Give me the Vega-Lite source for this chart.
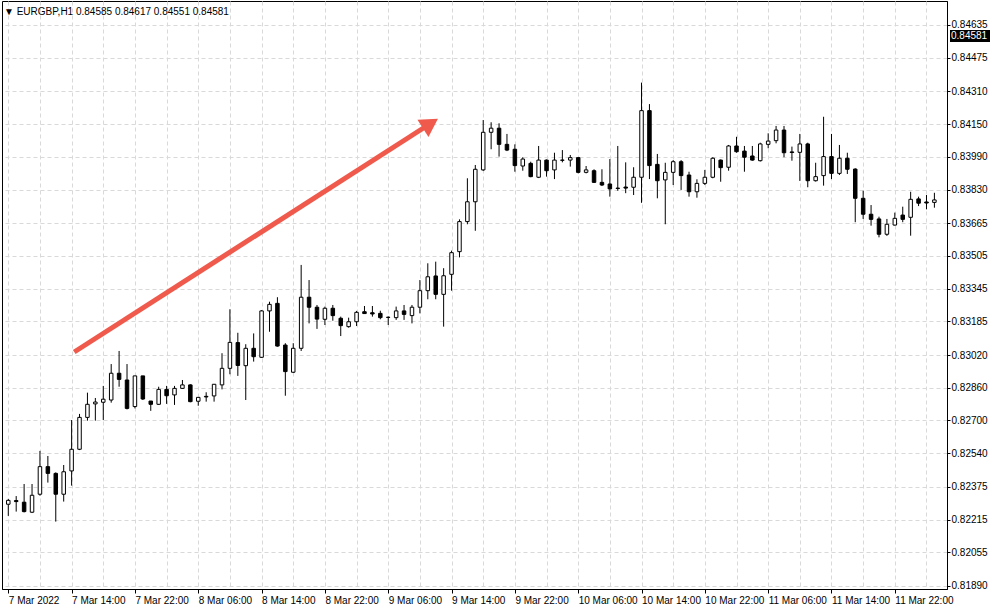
{
  "$schema": "https://vega.github.io/schema/vega-lite/v6.json",
  "width": 945,
  "height": 588,
  "autosize": "none",
  "padding": {"left": 2, "top": 1, "right": 46, "bottom": 21},
  "background": "#ffffff",
  "config": {
    "view": {"stroke": "#000000", "strokeWidth": 1},
    "font": "Liberation Sans",
    "axisY": {"labelOverlap": false, "labelSeparation": 0, "labelBound": false, "labelFlush": false},
    "axisX": {"labelOverlap": false, "labelSeparation": 0, "labelBound": false, "labelFlush": false}
  },
  "title": {
    "text": "▼ EURGBP,H1  0.84585 0.84617 0.84551 0.84581",
    "anchor": "start",
    "frame": "group",
    "orient": "top",
    "offset": -21,
    "baseline": "middle",
    "dx": 2,
    "fontSize": 10,
    "font": "Liberation Sans",
    "fontWeight": "normal",
    "color": "#000000"
  },
  "datasets": {
    "candles": [
      {"t":"2022-03-07T06:00Z","open":0.82290,"high":0.82316,"low":0.82233,"close":0.82309},
      {"t":"2022-03-07T07:00Z","open":0.82308,"high":0.82330,"low":0.82254,"close":0.82303},
      {"t":"2022-03-07T08:00Z","open":0.82300,"high":0.82389,"low":0.82250,"close":0.82254},
      {"t":"2022-03-07T09:00Z","open":0.82251,"high":0.82389,"low":0.82247,"close":0.82334},
      {"t":"2022-03-07T10:00Z","open":0.82339,"high":0.82551,"low":0.82332,"close":0.82474},
      {"t":"2022-03-07T11:00Z","open":0.82474,"high":0.82526,"low":0.82396,"close":0.82441},
      {"t":"2022-03-07T12:00Z","open":0.82441,"high":0.82446,"low":0.82205,"close":0.82339},
      {"t":"2022-03-07T13:00Z","open":0.82339,"high":0.82482,"low":0.82303,"close":0.82449},
      {"t":"2022-03-07T14:00Z","open":0.82453,"high":0.82702,"low":0.82381,"close":0.82559},
      {"t":"2022-03-07T15:00Z","open":0.82559,"high":0.82732,"low":0.82555,"close":0.82715},
      {"t":"2022-03-07T16:00Z","open":0.82715,"high":0.82836,"low":0.82699,"close":0.82779},
      {"t":"2022-03-07T17:00Z","open":0.82781,"high":0.82810,"low":0.82699,"close":0.82790},
      {"t":"2022-03-07T18:00Z","open":0.82789,"high":0.82869,"low":0.82702,"close":0.82804},
      {"t":"2022-03-07T19:00Z","open":0.82800,"high":0.82976,"low":0.82787,"close":0.82931},
      {"t":"2022-03-07T20:00Z","open":0.82931,"high":0.83040,"low":0.82865,"close":0.82901},
      {"t":"2022-03-07T21:00Z","open":0.82898,"high":0.82976,"low":0.82754,"close":0.82759},
      {"t":"2022-03-07T22:00Z","open":0.82768,"high":0.82918,"low":0.82759,"close":0.82918},
      {"t":"2022-03-07T23:00Z","open":0.82918,"high":0.82918,"low":0.82800,"close":0.82805},
      {"t":"2022-03-08T00:00Z","open":0.82795,"high":0.82795,"low":0.82747,"close":0.82779},
      {"t":"2022-03-08T01:00Z","open":0.82779,"high":0.82865,"low":0.82776,"close":0.82852},
      {"t":"2022-03-08T02:00Z","open":0.82852,"high":0.82869,"low":0.82781,"close":0.82821},
      {"t":"2022-03-08T03:00Z","open":0.82825,"high":0.82869,"low":0.82776,"close":0.82857},
      {"t":"2022-03-08T04:00Z","open":0.82857,"high":0.82898,"low":0.82854,"close":0.82874},
      {"t":"2022-03-08T05:00Z","open":0.82874,"high":0.82877,"low":0.82789,"close":0.82792},
      {"t":"2022-03-08T06:00Z","open":0.82794,"high":0.82813,"low":0.82772,"close":0.82813},
      {"t":"2022-03-08T07:00Z","open":0.82818,"high":0.82838,"low":0.82792,"close":0.82815},
      {"t":"2022-03-08T08:00Z","open":0.82820,"high":0.82877,"low":0.82792,"close":0.82877},
      {"t":"2022-03-08T09:00Z","open":0.82874,"high":0.83029,"low":0.82852,"close":0.82955},
      {"t":"2022-03-08T10:00Z","open":0.82955,"high":0.83244,"low":0.82926,"close":0.83082},
      {"t":"2022-03-08T11:00Z","open":0.83081,"high":0.83129,"low":0.82918,"close":0.82969},
      {"t":"2022-03-08T12:00Z","open":0.82968,"high":0.83073,"low":0.82800,"close":0.83053},
      {"t":"2022-03-08T13:00Z","open":0.83053,"high":0.83126,"low":0.82988,"close":0.83012},
      {"t":"2022-03-08T14:00Z","open":0.83009,"high":0.83240,"low":0.83006,"close":0.83236},
      {"t":"2022-03-08T15:00Z","open":0.83236,"high":0.83281,"low":0.83134,"close":0.83268},
      {"t":"2022-03-08T16:00Z","open":0.83273,"high":0.83303,"low":0.83061,"close":0.83064},
      {"t":"2022-03-08T17:00Z","open":0.83069,"high":0.83078,"low":0.82821,"close":0.82939},
      {"t":"2022-03-08T18:00Z","open":0.82936,"high":0.83078,"low":0.82932,"close":0.83053},
      {"t":"2022-03-08T19:00Z","open":0.83053,"high":0.83461,"low":0.83040,"close":0.83303},
      {"t":"2022-03-08T20:00Z","open":0.83303,"high":0.83387,"low":0.83175,"close":0.83254},
      {"t":"2022-03-08T21:00Z","open":0.83254,"high":0.83265,"low":0.83148,"close":0.83196},
      {"t":"2022-03-08T22:00Z","open":0.83195,"high":0.83257,"low":0.83167,"close":0.83249},
      {"t":"2022-03-08T23:00Z","open":0.83249,"high":0.83265,"low":0.83188,"close":0.83213},
      {"t":"2022-03-09T00:00Z","open":0.83200,"high":0.83208,"low":0.83113,"close":0.83164},
      {"t":"2022-03-09T01:00Z","open":0.83159,"high":0.83203,"low":0.83154,"close":0.83183},
      {"t":"2022-03-09T02:00Z","open":0.83183,"high":0.83236,"low":0.83162,"close":0.83229},
      {"t":"2022-03-09T03:00Z","open":0.83232,"high":0.83260,"low":0.83221,"close":0.83223},
      {"t":"2022-03-09T04:00Z","open":0.83227,"high":0.83260,"low":0.83208,"close":0.83221},
      {"t":"2022-03-09T05:00Z","open":0.83224,"high":0.83237,"low":0.83195,"close":0.83203},
      {"t":"2022-03-09T06:00Z","open":0.83205,"high":0.83209,"low":0.83167,"close":0.83204},
      {"t":"2022-03-09T07:00Z","open":0.83203,"high":0.83257,"low":0.83192,"close":0.83236},
      {"t":"2022-03-09T08:00Z","open":0.83236,"high":0.83265,"low":0.83192,"close":0.83219},
      {"t":"2022-03-09T09:00Z","open":0.83213,"high":0.83265,"low":0.83175,"close":0.83254},
      {"t":"2022-03-09T10:00Z","open":0.83254,"high":0.83387,"low":0.83224,"close":0.83335},
      {"t":"2022-03-09T11:00Z","open":0.83335,"high":0.83469,"low":0.83293,"close":0.83403},
      {"t":"2022-03-09T12:00Z","open":0.83407,"high":0.83477,"low":0.83293,"close":0.83317},
      {"t":"2022-03-09T13:00Z","open":0.83317,"high":0.83445,"low":0.83159,"close":0.83408},
      {"t":"2022-03-09T14:00Z","open":0.83415,"high":0.83531,"low":0.83335,"close":0.83521},
      {"t":"2022-03-09T15:00Z","open":0.83526,"high":0.83684,"low":0.83498,"close":0.83673},
      {"t":"2022-03-09T16:00Z","open":0.83673,"high":0.83885,"low":0.83660,"close":0.83770},
      {"t":"2022-03-09T17:00Z","open":0.83770,"high":0.83950,"low":0.83628,"close":0.83929},
      {"t":"2022-03-09T18:00Z","open":0.83926,"high":0.84170,"low":0.83921,"close":0.84110},
      {"t":"2022-03-09T19:00Z","open":0.84110,"high":0.84159,"low":0.84027,"close":0.84130},
      {"t":"2022-03-09T20:00Z","open":0.84130,"high":0.84154,"low":0.83991,"close":0.84051},
      {"t":"2022-03-09T21:00Z","open":0.84051,"high":0.84102,"low":0.84018,"close":0.84023},
      {"t":"2022-03-09T22:00Z","open":0.84027,"high":0.84051,"low":0.83917,"close":0.83947},
      {"t":"2022-03-09T23:00Z","open":0.83945,"high":0.83988,"low":0.83922,"close":0.83979},
      {"t":"2022-03-10T00:00Z","open":0.83958,"high":0.83966,"low":0.83890,"close":0.83893},
      {"t":"2022-03-10T01:00Z","open":0.83890,"high":0.84043,"low":0.83886,"close":0.83974},
      {"t":"2022-03-10T02:00Z","open":0.83974,"high":0.83977,"low":0.83893,"close":0.83922},
      {"t":"2022-03-10T03:00Z","open":0.83926,"high":0.84010,"low":0.83881,"close":0.83974},
      {"t":"2022-03-10T04:00Z","open":0.83974,"high":0.84023,"low":0.83963,"close":0.83973},
      {"t":"2022-03-10T05:00Z","open":0.83974,"high":0.83999,"low":0.83942,"close":0.83986},
      {"t":"2022-03-10T06:00Z","open":0.83986,"high":0.83988,"low":0.83909,"close":0.83914},
      {"t":"2022-03-10T07:00Z","open":0.83914,"high":0.83945,"low":0.83909,"close":0.83926},
      {"t":"2022-03-10T08:00Z","open":0.83922,"high":0.83929,"low":0.83862,"close":0.83865},
      {"t":"2022-03-10T09:00Z","open":0.83865,"high":0.83929,"low":0.83847,"close":0.83852},
      {"t":"2022-03-10T10:00Z","open":0.83857,"high":0.83979,"low":0.83795,"close":0.83833},
      {"t":"2022-03-10T11:00Z","open":0.83837,"high":0.84043,"low":0.83824,"close":0.83835},
      {"t":"2022-03-10T12:00Z","open":0.83842,"high":0.83963,"low":0.83812,"close":0.83837},
      {"t":"2022-03-10T13:00Z","open":0.83841,"high":0.83939,"low":0.83803,"close":0.83890},
      {"t":"2022-03-10T14:00Z","open":0.83890,"high":0.84353,"low":0.83765,"close":0.84216},
      {"t":"2022-03-10T15:00Z","open":0.84216,"high":0.84248,"low":0.83881,"close":0.83947},
      {"t":"2022-03-10T16:00Z","open":0.83953,"high":0.84004,"low":0.83787,"close":0.83873},
      {"t":"2022-03-10T17:00Z","open":0.83877,"high":0.83961,"low":0.83660,"close":0.83914},
      {"t":"2022-03-10T18:00Z","open":0.83914,"high":0.83974,"low":0.83852,"close":0.83966},
      {"t":"2022-03-10T19:00Z","open":0.83966,"high":0.83974,"low":0.83828,"close":0.83898},
      {"t":"2022-03-10T20:00Z","open":0.83901,"high":0.83917,"low":0.83795,"close":0.83819},
      {"t":"2022-03-10T21:00Z","open":0.83819,"high":0.83880,"low":0.83790,"close":0.83860},
      {"t":"2022-03-10T22:00Z","open":0.83860,"high":0.83926,"low":0.83852,"close":0.83890},
      {"t":"2022-03-10T23:00Z","open":0.83890,"high":0.83988,"low":0.83885,"close":0.83983},
      {"t":"2022-03-11T00:00Z","open":0.83974,"high":0.83977,"low":0.83868,"close":0.83937},
      {"t":"2022-03-11T01:00Z","open":0.83939,"high":0.84048,"low":0.83922,"close":0.84043},
      {"t":"2022-03-11T02:00Z","open":0.84043,"high":0.84088,"low":0.84010,"close":0.84015},
      {"t":"2022-03-11T03:00Z","open":0.84018,"high":0.84043,"low":0.83917,"close":0.83988},
      {"t":"2022-03-11T04:00Z","open":0.83994,"high":0.84043,"low":0.83971,"close":0.83974},
      {"t":"2022-03-11T05:00Z","open":0.83971,"high":0.84059,"low":0.83967,"close":0.84053},
      {"t":"2022-03-11T06:00Z","open":0.84051,"high":0.84105,"low":0.84032,"close":0.84067},
      {"t":"2022-03-11T07:00Z","open":0.84069,"high":0.84141,"low":0.84056,"close":0.84121},
      {"t":"2022-03-11T08:00Z","open":0.84121,"high":0.84141,"low":0.83988,"close":0.84010},
      {"t":"2022-03-11T09:00Z","open":0.84014,"high":0.84040,"low":0.83971,"close":0.84011},
      {"t":"2022-03-11T10:00Z","open":0.84012,"high":0.84102,"low":0.83872,"close":0.84053},
      {"t":"2022-03-11T11:00Z","open":0.84053,"high":0.84059,"low":0.83841,"close":0.83873},
      {"t":"2022-03-11T12:00Z","open":0.83873,"high":0.83961,"low":0.83869,"close":0.83893},
      {"t":"2022-03-11T13:00Z","open":0.83898,"high":0.84186,"low":0.83849,"close":0.83991},
      {"t":"2022-03-11T14:00Z","open":0.83991,"high":0.84102,"low":0.83881,"close":0.83909},
      {"t":"2022-03-11T15:00Z","open":0.83909,"high":0.84048,"low":0.83901,"close":0.83983},
      {"t":"2022-03-11T16:00Z","open":0.83983,"high":0.84010,"low":0.83906,"close":0.83929},
      {"t":"2022-03-11T17:00Z","open":0.83930,"high":0.83934,"low":0.83670,"close":0.83787},
      {"t":"2022-03-11T18:00Z","open":0.83787,"high":0.83824,"low":0.83686,"close":0.83709},
      {"t":"2022-03-11T19:00Z","open":0.83709,"high":0.83754,"low":0.83653,"close":0.83684},
      {"t":"2022-03-11T20:00Z","open":0.83686,"high":0.83697,"low":0.83596,"close":0.83611},
      {"t":"2022-03-11T21:00Z","open":0.83611,"high":0.83686,"low":0.83603,"close":0.83660},
      {"t":"2022-03-11T22:00Z","open":0.83656,"high":0.83717,"low":0.83654,"close":0.83689},
      {"t":"2022-03-11T23:00Z","open":0.83705,"high":0.83746,"low":0.83670,"close":0.83684},
      {"t":"2022-03-12T00:00Z","open":0.83694,"high":0.83819,"low":0.83604,"close":0.83782},
      {"t":"2022-03-12T01:00Z","open":0.83784,"high":0.83795,"low":0.83749,"close":0.83763},
      {"t":"2022-03-12T02:00Z","open":0.83769,"high":0.83803,"low":0.83733,"close":0.83764},
      {"t":"2022-03-12T03:00Z","open":0.83767,"high":0.83814,"low":0.83741,"close":0.83779}
    ],
    "arrow": [
      {"t":"2022-03-07T14:20Z","price":0.83035},
      {"t":"2022-03-09T11:20Z","price":0.84153}
    ],
    "arrowhead": [
      {"t":"2022-03-09T11:20Z","price":0.84153}
    ],
    "bid": [
      {"price": 0.84581}
    ]
  },
  "layer": [
    {
      "data": {"name": "candles"},
      "mark": {"type": "rule", "color": "#000000", "strokeWidth": 1, "clip": true},
      "encoding": {
        "x": {
          "field": "t", "type": "temporal",
          "scale": {"type": "utc", "domain": [1646632215000, 1647057456000], "nice": false},
          "axis": {
            "title": null,
            "tickCount": 60,
            "values": [1646632800000,1646647200000,1646661600000,1646676000000,1646690400000,1646704800000,1646719200000,1646733600000,1646748000000,1646762400000,1646776800000,1646791200000,1646805600000,1646820000000,1646834400000,1646848800000,1646863200000,1646877600000,1646892000000,1646906400000,1646920800000,1646935200000,1646949600000,1646964000000,1646978400000,1646992800000,1647007200000,1647021600000,1647036000000,1647050400000],
            "grid": true,
            "gridColor": "#d9d9d9",
            "gridDash": [4, 3],
            "gridWidth": 1,
            "domainColor": "#000000",
            "domainWidth": 1,
            "tickSize": 4,
            "tickWidth": 1,
            "tickColor": {"condition": {"test": "(+datum.value - 1646632800000) % 28800000 === 0", "value": "#000000"}, "value": "transparent"},
            "labelExpr": "(+datum.value - 1646632800000) % 28800000 !== 0 ? '' : (+datum.value === 1646632800000 ? '7 Mar 2022' : utcFormat(datum.value, '%-d %b %H:%M'))",
            "labelAlign": "left",
            "labelBaseline": "top",
            "labelPadding": 2,
            "labelFlush": false,
            "labelOverlap": false,
            "labelBound": false,
            "labelFont": "Liberation Sans",
            "labelFontSize": 10,
            "labelColor": "#000000"
          }
        },
        "y": {
          "field": "low", "type": "quantitative",
          "scale": {"domain": [0.818753, 0.847524], "zero": false, "nice": false},
          "axis": {
            "orient": "right",
            "title": null,
            "tickCount": 40,
            "values": [0.81890, 0.82055, 0.82215, 0.82375, 0.82540, 0.82700, 0.82860, 0.83020, 0.83185, 0.83345, 0.83505, 0.83665, 0.83830, 0.83990, 0.84150, 0.84310, 0.84475, 0.84635],
            "format": ".5f",
            "grid": true,
            "gridColor": "#d9d9d9",
            "gridDash": [4, 3],
            "gridWidth": 1,
            "domainColor": "#000000",
            "tickColor": "#000000",
            "tickSize": 3,
            "labelPadding": 1,
            "labelFont": "Liberation Sans",
            "labelFontSize": 10,
            "labelColor": "#000000",
            "labelBaseline": "middle",
            "labelOverlap": false,
            "labelSeparation": 0,
            "labelFlush": false,
            "labelBound": false
          }
        },
        "y2": {"field": "high"}
      }
    },
    {
      "data": {"name": "candles"},
      "mark": {"type": "bar", "size": 3.5, "stroke": "#000000", "strokeWidth": 1, "clip": true},
      "encoding": {
        "x": {"field": "t", "type": "temporal"},
        "y": {"field": "open", "type": "quantitative"},
        "y2": {"field": "close"},
        "fill": {"condition": {"test": "datum.close < datum.open", "value": "#000000"}, "value": "#ffffff"}
      }
    },
    {
      "data": {"name": "arrow"},
      "mark": {"type": "line", "color": "#ef5a4c", "strokeWidth": 5, "strokeCap": "butt", "clip": true},
      "encoding": {
        "x": {"field": "t", "type": "temporal"},
        "y": {"field": "price", "type": "quantitative"}
      }
    },
    {
      "data": {"name": "arrowhead"},
      "mark": {"type": "point", "shape": "triangle-up", "filled": true, "color": "#ef5a4c", "opacity": 1, "size": 420, "angle": 57.5, "clip": true},
      "encoding": {
        "x": {"field": "t", "type": "temporal"},
        "y": {"field": "price", "type": "quantitative"}
      }
    },
    {
      "data": {"name": "bid"},
      "mark": {"type": "point", "shape": "M0.3,-0.6 L4.3,-0.6 L4.3,0.6 L0.3,0.6 Z", "filled": true, "color": "#000000", "opacity": 1, "size": 400, "clip": false},
      "encoding": {
        "x": {"value": "width"},
        "y": {"field": "price", "type": "quantitative"}
      }
    },
    {
      "data": {"name": "bid"},
      "mark": {"type": "text", "align": "left", "baseline": "middle", "dx": 4, "color": "#ffffff", "font": "Liberation Sans", "fontSize": 10, "clip": false},
      "encoding": {
        "x": {"value": "width"},
        "y": {"field": "price", "type": "quantitative"},
        "text": {"field": "price", "type": "quantitative", "format": ".5f"}
      }
    }
  ]
}
